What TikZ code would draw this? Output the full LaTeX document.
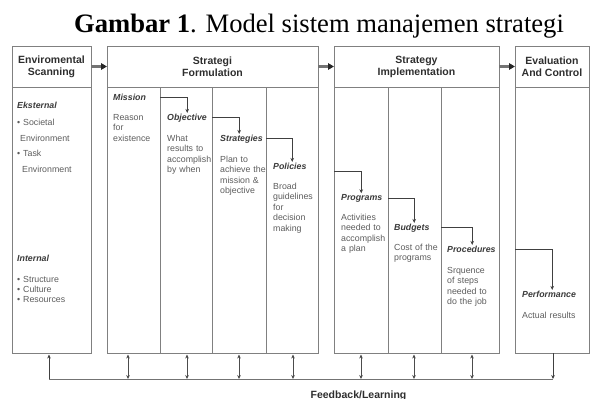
\documentclass[tikz,border=0pt]{standalone}
\usepackage{fontspec}
\setmainfont{Liberation Serif}
\setsansfont{Liberation Sans}
\usetikzlibrary{arrows.meta,calc}
\definecolor{boxgray}{HTML}{808080}
\definecolor{txtgray}{HTML}{5C5C5C}
\definecolor{labgray}{HTML}{3A3A3A}
\definecolor{headgray}{HTML}{2E2E2E}
\begin{document}
\begin{tikzpicture}[x=1pt,y=-1pt,
  box/.style={draw=boxgray, line width=0.8pt, inner sep=0pt, outer sep=0pt},
  head/.style={box, font=\sffamily\bfseries\fontsize{10.5}{12}\selectfont, text=headgray, align=center},
  body/.style={anchor=base west, inner sep=0pt, text width=62pt, align=left, font=\sffamily\fontsize{8.8}{10.5}\selectfont, text=txtgray},
  lab/.style={anchor=base west, inner sep=0pt, font=\sffamily\bfseries\itshape\fontsize{8.8}{10.5}\selectfont, text=labgray},
  flow/.style={draw=black!75, line width=0.6pt, -{Stealth[length=4pt,width=3.6pt]}},
  dflow/.style={draw=black!70, line width=0.6pt, {Stealth[length=4pt,width=3.6pt]}-{Stealth[length=4pt,width=3.6pt]}},
  harrow/.style={draw=black!55, line width=2.2pt, -{Triangle[length=6pt,width=6.5pt,color=black!85]}},
  fbline/.style={draw=black!55, line width=0.7pt}
]
\useasboundingbox (0,0) rectangle (595,399);

% title
\node[anchor=base, inner sep=0pt, font=\fontsize{26.6}{30}\selectfont] (title) at (319,32) {\textbf{Gambar 1}. Model sistem manajemen strategi};

% boxes
\node[head, minimum width=79pt, minimum height=41pt] (h1) at (51.5,66.5) {Enviromental\\Scanning};
\node[box, minimum width=79pt, minimum height=266pt] (b1) at (51.5,220) {};

\node[head, minimum width=211pt, minimum height=41pt] (h2) at (212.5,66.5) {Strategi\\Formulation};
\node[box, minimum width=53pt, minimum height=266pt] (c21) at (133.5,220) {};
\node[box, minimum width=52pt, minimum height=266pt] (c22) at (186,220) {};
\node[box, minimum width=54pt, minimum height=266pt] (c23) at (239,220) {};
\node[box, minimum width=52pt, minimum height=266pt] (c24) at (292,220) {};

\node[head, minimum width=165pt, minimum height=41pt] (h3) at (416.5,66.5) {Strategy\\Implementation};
\node[box, minimum width=54pt, minimum height=266pt] (c31) at (361,220) {};
\node[box, minimum width=53pt, minimum height=266pt] (c32) at (414.5,220) {};
\node[box, minimum width=58pt, minimum height=266pt] (c33) at (470,220) {};

\node[head, minimum width=74pt, minimum height=41pt] (h4) at (552,66.5) {Evaluation\\And Control};
\node[box, minimum width=74pt, minimum height=266pt] (b4) at (552,220) {};

% header arrows
\draw[harrow] (h1.east) -- (h2.west);
\draw[harrow] (h2.east) -- (h3.west);
\draw[harrow] (h3.east) -- (h4.west);

% environmental scanning texts
\node[lab] (ext) at (17,108) {Eksternal};
\node[body] (ext1) at (17,125) {\textbullet\ Societal};
\node[body] (ext2) at (20,141) {Environment};
\node[body] (ext3) at (17,156) {\textbullet\ Task};
\node[body] (ext4) at (22,172) {Environment};
\node[lab] (int) at (17,261) {Internal};
\node[body, font=\sffamily\fontsize{8.8}{10}\selectfont] (intt) at (17,282) {\textbullet\ Structure\\\textbullet\ Culture\\\textbullet\ Resources};

% formulation texts
\node[lab] (mission) at (113,100) {Mission};
\node[body] (missiont) at (113,120) {Reason\\for\\existence};
\node[lab] (objective) at (167,120) {Objective};
\node[body] (objectivet) at (167,141) {What\\results to\\accomplish\\by when};
\node[lab] (strategies) at (220,141) {Strategies};
\node[body] (strategiest) at (220,162) {Plan to\\achieve the\\mission \&\\objective};
\node[lab] (policies) at (273,169) {Policies};
\node[body] (policiest) at (273,189) {Broad\\guidelines\\for\\decision\\making};

% implementation texts
\node[lab] (programs) at (341,200) {Programs};
\node[body] (programst) at (341,220) {Activities\\needed to\\accomplish\\a plan};
\node[lab] (budgets) at (394,230) {Budgets};
\node[body] (budgetst) at (394,250) {Cost of the\\programs};
\node[lab] (procedures) at (447,252) {Procedures};
\node[body] (procedurest) at (447,273) {Srquence\\of steps\\needed to\\do the job};

% evaluation texts
\node[lab] (performance) at (522,297) {Performance};
\node[body] (performancet) at (522,318) {Actual results};

% elbow arrows
\draw[flow] (c21.east |- mission) -| ([xshift=0.2pt,yshift=0.5pt]objective.north);
\draw[flow] (c22.east |- objective) -| ([xshift=-2.3pt,yshift=0.5pt]strategies.north);
\draw[flow] (c23.east |- strategies) -| ([xshift=2.4pt,yshift=0.5pt]policies.north);
\coordinate (p3in) at (334,171);
\draw[flow] (p3in) -| ([xshift=-0.5pt,yshift=0.5pt]programs.north);
\draw[flow] (c32.west |- programs) -| ([xshift=2.4pt,yshift=0.5pt]budgets.north);
\draw[flow] (c33.west |- budgets) -| ([xshift=0.8pt,yshift=0.5pt]procedures.north);
\draw[flow] (b4.west |- procedures) -| ([xshift=3.1pt,yshift=0.5pt]performance.north);

% feedback loop
\coordinate (fbL) at (49,379);
\coordinate (fbR) at (553,379);
\coordinate (fx1) at (128,379);
\coordinate (fx2) at (187,379);
\coordinate (fx3) at (239,379);
\coordinate (fx4) at (293,379);
\coordinate (fx5) at (361,379);
\coordinate (fx6) at (414,379);
\coordinate (fx7) at (472,379);
\draw[fbline] (fbL) -- (fbR);
\draw[flow, shorten >=1.5pt] (fbL) -- (b1.south -| fbL);
\draw[flow] (b4.south -| fbR) -- (fbR);
\foreach \i/\c in {1/c21,2/c22,3/c23,4/c24,5/c31,6/c32,7/c33}{
  \draw[dflow, shorten <=1.5pt] (\c.south -| fx\i) -- (fx\i);
}
\node[anchor=base, inner sep=0pt, font=\sffamily\bfseries\fontsize{10.5}{12}\selectfont, text=headgray] (fbtext) at (358.5,398) {Feedback/Learning};
\end{tikzpicture}
\end{document}
